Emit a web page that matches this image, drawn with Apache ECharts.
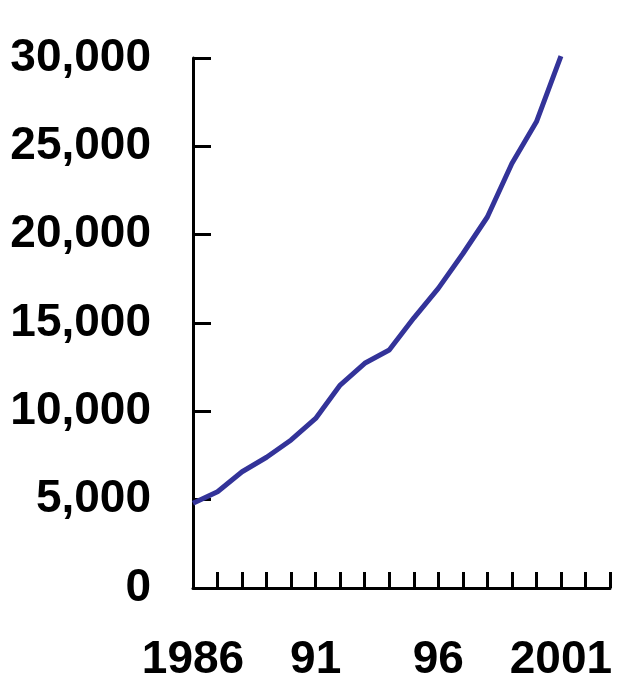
<!DOCTYPE html>
<html>
<head>
<meta charset="utf-8">
<script src="https://cdn.jsdelivr.net/npm/echarts@6/dist/echarts.min.js"></script>
<style>
  html, body { margin: 0; padding: 0; background: #ffffff; }
  #chart { width: 622px; height: 684px; }
</style>
</head>
<body>
<div id="chart"></div>
<script>
// Annual values, 1986–2001
const years = [1986, 1987, 1988, 1989, 1990, 1991, 1992, 1993, 1994, 1995, 1996, 1997, 1998, 1999, 2000, 2001];
const values = [4800, 5450, 6580, 7400, 8380, 9600, 11490, 12720, 13470, 15280, 16960, 18920, 21000, 24030, 26390, 30100];

// Tick labels shown on the year axis
const yearLabels = { 1986: '1986', 1991: '91', 1996: '96', 2001: '2001' };

const chart = echarts.init(document.getElementById('chart'), null, { renderer: 'canvas' });

const labelFont = {
  fontFamily: '"Liberation Sans", Arial, sans-serif',
  fontWeight: 'bold',
  fontSize: 46,
  color: '#000000'
};

chart.setOption({
  animation: false,
  grid: { left: 193, top: 58, right: 12, bottom: 96, containLabel: false },
  xAxis: {
    type: 'value',
    min: 1986,
    max: 2003,
    interval: 1,
    splitLine: { show: false },
    axisLine: { show: true, onZero: false, lineStyle: { color: '#000000', width: 3 } },
    axisTick: { show: true, inside: true, length: 16, lineStyle: { color: '#000000', width: 3 } },
    axisLabel: Object.assign({
      margin: 49,
      showMinLabel: true,
      showMaxLabel: true,
      formatter: v => yearLabels[v] || ''
    }, labelFont)
  },
  yAxis: {
    type: 'value',
    min: 0,
    max: 30000,
    interval: 5000,
    splitLine: { show: false },
    axisLine: { show: true, onZero: false, lineStyle: { color: '#000000', width: 3 } },
    axisTick: { show: true, inside: true, length: 18, lineStyle: { color: '#000000', width: 3 } },
    axisLabel: Object.assign({
      margin: 42,
      formatter: v => v.toLocaleString('en-US')
    }, labelFont)
  },
  series: [{
    type: 'line',
    data: years.map((y, i) => [y, values[i]]),
    showSymbol: false,
    symbol: 'none',
    clip: false,
    lineStyle: { color: '#333399', width: 5 },
    z: 1
  }]
});
</script>
</body>
</html>
